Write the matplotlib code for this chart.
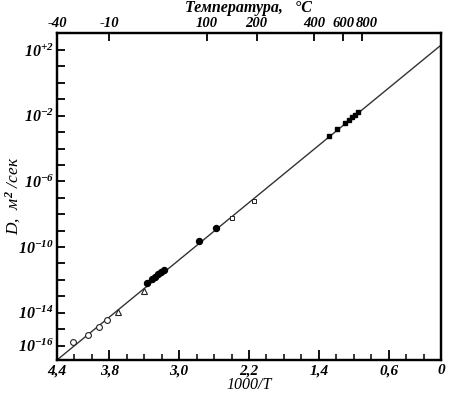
import matplotlib
matplotlib.use('Agg')
import matplotlib.pyplot as plt
import numpy as np
from matplotlib.ticker import FixedLocator, FixedFormatter, NullLocator, NullFormatter
from matplotlib.transforms import blended_transform_factory, offset_copy

plt.rcParams['font.family'] = ['Liberation Serif', 'DejaVu Serif']
plt.rcParams['font.weight'] = 'bold'
plt.rcParams['font.style'] = 'italic'
plt.rcParams['mathtext.fontset'] = 'custom'
plt.rcParams['mathtext.rm'] = 'Liberation Serif:italic:bold'
plt.rcParams['mathtext.it'] = 'Liberation Serif:italic:bold'
plt.rcParams['mathtext.bf'] = 'Liberation Serif:italic:bold'

# ---- data (x = 1000/T, y = log10 D) ----
open_circ_x = [4.213, 4.048, 3.922, 3.827]
open_circ_y = [-15.80, -15.36, -14.85, -14.44]

tri_x = [3.704, 3.407]
tri_y = [-13.94, -12.66]

fill_circ_x = [3.372, 3.308, 3.274, 3.239, 3.205, 3.170, 2.773, 2.578]
fill_circ_y = [-12.21, -11.96, -11.81, -11.66, -11.52, -11.40, -9.65, -8.82]

open_sq_x = [2.398, 2.143]
open_sq_y = [-8.23, -7.18]

fill_sq_x = [1.283, 1.188, 1.100, 1.058, 1.020, 0.982, 0.948]
fill_sq_y = [-3.22, -2.79, -2.45, -2.28, -2.08, -1.94, -1.79]

line_x = [4.4, 0.0]
line_y = [-16.88, 2.30]

x_ticks = [4.4, 3.8, 3.0, 2.2, 1.4, 0.6, 0.0]
x_ticklabels = ['4,4', '3,8', '3,0', '2,2', '1,4', '0,6', '0']

y_label_exps = [2, -2, -6, -10, -14, -16]
y_label_texts = ['+2', '-2', '-6', '-10', '-14', '-16']

top_temps = ['-40', '-10', '100', '200', '400', '600', '800']
top_pos = [4.4, 3.80, 2.68, 2.113, 1.452, 1.119, 0.908]

fig = plt.figure(figsize=(4.49, 3.95), dpi=100)
ax = fig.add_axes([57/449, 1-360/395, 384/449, 327.5/395])
ax.set_yscale('log')

p = lambda v: 10.0**np.asarray(v)

ax.plot(line_x, p(line_y), color='#333333', lw=1.0, zorder=2)
ax.plot(open_circ_x, p(open_circ_y), 'o', ms=4.2, mfc='white', mec='#222222', mew=0.8, zorder=3)
ax.plot(tri_x, p(tri_y), '^', ms=4.5, mfc='white', mec='#222222', mew=0.8, zorder=3)
ax.plot(fill_circ_x, p(fill_circ_y), 'o', ms=4.3, mfc='black', mec='black', zorder=3)
ax.plot(open_sq_x, p(open_sq_y), 's', ms=2.6, mfc='white', mec='#222222', mew=0.7, zorder=3)
ax.plot(fill_sq_x, p(fill_sq_y), 's', ms=2.6, mfc='black', mec='black', zorder=3)

ax.set_xlim(4.4, 0.0)
ax.set_ylim(10**-16.88, 10**3.07)

for s in ax.spines.values():
    s.set_linewidth(1.6)

# x ticks
ax.xaxis.set_major_locator(FixedLocator(x_ticks))
ax.xaxis.set_major_formatter(FixedFormatter(x_ticklabels))
ax.xaxis.set_minor_locator(FixedLocator(np.arange(0.2, 4.4, 0.2)))
ax.tick_params(axis='x', which='major', direction='in', length=7, width=1.3,
               labelsize=11, pad=3, top=False)
ax.tick_params(axis='x', which='minor', direction='in', length=4.5, width=1.1, top=False)
ax.set_xlabel('1000/T', fontsize=11.5, labelpad=0)

# y ticks
decades = list(range(-16, 3))
ax.yaxis.set_major_locator(FixedLocator([10.0**k for k in decades]))
labs = []
for k in decades:
    if k in y_label_exps:
        labs.append(r'$10^{%s}$' % y_label_texts[y_label_exps.index(k)])
    else:
        labs.append('')
ax.yaxis.set_major_formatter(FixedFormatter(labs))
ax.yaxis.set_minor_locator(NullLocator())
ax.tick_params(axis='y', which='major', direction='in', length=6, width=1.3,
               labelsize=11.5, pad=2, right=False)
ax.set_ylabel('D,  м$^{2}$ /сек', fontsize=12.5, labelpad=4)
ax.yaxis.set_label_coords(-0.088, 0.5)

# top axis (temperature)
ax2 = ax.twiny()
ax2.set_xlim(ax.get_xlim())
ax2.xaxis.set_major_locator(FixedLocator(top_pos))
ax2.xaxis.set_major_formatter(NullFormatter())
ax2.xaxis.set_minor_locator(NullLocator())
ax2.tick_params(axis='x', direction='in', length=6, width=1.3)
for s in ax2.spines.values():
    s.set_linewidth(1.6)

btr = blended_transform_factory(ax2.transData, ax2.transAxes)
for lab, xp in zip(top_temps, top_pos):
    if lab == '800':
        tr = offset_copy(btr, fig=fig, x=-4, y=2, units='points')
        ax2.text(xp, 1.0, lab, transform=tr, ha='left', va='bottom', fontsize=10.5)
    else:
        tr = offset_copy(btr, fig=fig, x=0, y=2, units='points')
        ax2.text(xp, 1.0, lab, transform=tr, ha='center', va='bottom', fontsize=10.5)

fig.text(0.553, 1 - 11.5/395, 'Температура,   °C', ha='center', va='baseline', fontsize=11.5)

fig.savefig('out.png', dpi=100)
